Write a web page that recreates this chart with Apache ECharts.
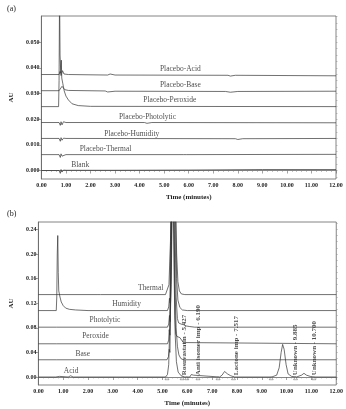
<!DOCTYPE html>
<html>
<head>
<meta charset="utf-8">
<script src="https://cdn.jsdelivr.net/npm/echarts@6/dist/echarts.min.js"></script>
<style>
html,body{margin:0;padding:0;background:#fff}
#chart{width:346px;height:409px}
</style>
</head>
<body>
<div id="chart"></div>
<script>
// (a) placebo chromatograms, points are [time (min), AU]
const placeboAcid = [[0,0.0374],[0.72,0.0374],[0.76,0.0386],[0.8,0.037],[0.86,0.0389],[0.92,0.0376],[1.1,0.0374],[2.7,0.0372],[2.8,0.0376],[3,0.0372],[7.6,0.0371],[7.7,0.0368],[7.9,0.0371],[12,0.0369]]
const placeboBase = [[0,0.0311],[0.72,0.0311],[0.76,0.0304],[0.8,0.031],[0.84,0.0328],[0.88,0.0322],[0.95,0.0315],[1.1,0.0312],[2.6,0.031],[2.7,0.0306],[3,0.0309],[7.5,0.0308],[7.7,0.0305],[8,0.0308],[12,0.0309]]
const placeboPeroxide = [[0,0.0249],[0.7,0.0249],[0.72,0.035],[0.74,0.07],[0.76,0.045],[0.79,0.038],[0.81,0.043],[0.83,0.036],[0.87,0.034],[0.93,0.031],[1.0,0.029],[1.1,0.0275],[1.25,0.026],[1.5,0.0253],[2,0.025],[12,0.0249]]
const placeboPhotolytic = [[0,0.0187],[0.72,0.0187],[0.77,0.0176],[0.8,0.019],[0.84,0.0178],[0.9,0.019],[1.0,0.0187],[4.2,0.0187],[4.3,0.0184],[4.5,0.0187],[12,0.0186]]
const placeboHumidity = [[0,0.0125],[0.72,0.0125],[0.77,0.0114],[0.8,0.0128],[0.84,0.0118],[0.9,0.0126],[1.0,0.0125],[7.9,0.0124],[8.0,0.0121],[8.2,0.0124],[12,0.0125]]
const placeboThermal = [[0,0.0062],[0.72,0.0062],[0.77,0.0051],[0.8,0.0065],[0.84,0.0056],[0.9,0.0063],[1.0,0.0062],[5.8,0.0062],[5.85,0.0066],[5.9,0.0062],[12,0.0063]]
const blank = [[0,0.0],[0.72,0.0],[0.77,-0.0011],[0.8,0.0004],[0.84,-0.0006],[0.9,0.0002],[1.0,0.0001],[3,0.0001],[6,0.0002],[9,0.0004],[12,0.0004]]

// (b) stressed samples
const acid = [[0,0],[0.7,0],[0.74,0.003],[0.78,-0.001],[0.85,0.001],[1.2,0],[1.3,0.002],[1.4,0],[5.12,0],[5.2,0.004],[5.25,0.02],[5.29,0.08],[5.32,0.2],[5.35,0.32],[5.39,0.36],[5.43,0.3],[5.47,0.16],[5.51,0.07],[5.56,0.025],[5.63,0.008],[5.75,0.002],[5.9,0],[6.1,0],[6.16,0.004],[6.2,0.006],[6.25,0.003],[6.32,0],[7.3,0],[7.4,0.003],[7.5,0.009],[7.56,0.007],[7.62,0.005],[7.75,0.002],[7.9,0],[9.4,0],[9.6,0.003],[9.7,0.015],[9.78,0.04],[9.84,0.053],[9.9,0.045],[9.98,0.02],[10.06,0.005],[10.2,0.001],[10.4,0],[10.6,0.003],[10.7,0.006],[10.8,0.003],[10.95,0.001],[11.1,0],[12,0]]
const base = [[0,0.028],[0.74,0.028],[0.78,0.03],[0.82,0.028],[2.9,0.028],[2.95,0.0295],[3,0.028],[5.18,0.028],[5.24,0.033],[5.27,0.045],[5.3,0.04],[5.33,0.15],[5.37,0.3],[5.41,0.36],[5.46,0.28],[5.5,0.15],[5.55,0.08],[5.6,0.05],[5.66,0.036],[5.74,0.03],[5.84,0.028],[12,0.028]]
const peroxide = [[0,0.054],[0.74,0.054],[0.78,0.052],[0.82,0.054],[5.2,0.054],[5.25,0.06],[5.27,0.077],[5.3,0.068],[5.34,0.16],[5.38,0.32],[5.43,0.36],[5.47,0.22],[5.5,0.1],[5.53,0.07],[5.58,0.066],[5.7,0.064],[5.78,0.062],[5.84,0.056],[5.9,0.054],[12,0.054]]
const photolytic = [[0,0.081],[0.74,0.081],[0.78,0.083],[0.82,0.081],[5.2,0.081],[5.25,0.086],[5.28,0.1],[5.31,0.09],[5.35,0.15],[5.4,0.3],[5.45,0.36],[5.5,0.26],[5.55,0.13],[5.6,0.095],[5.65,0.088],[5.75,0.086],[5.85,0.085],[5.95,0.083],[6.1,0.082],[6.3,0.081],[12,0.081]]
const humidity = [[0,0.108],[0.72,0.108],[0.74,0.13],[0.76,0.2],[0.78,0.23],[0.8,0.17],[0.82,0.14],[0.84,0.142],[0.87,0.13],[0.92,0.122],[1.0,0.116],[1.1,0.112],[1.25,0.11],[1.5,0.109],[2,0.108],[5.2,0.108],[5.25,0.114],[5.28,0.128],[5.31,0.12],[5.35,0.2],[5.4,0.33],[5.46,0.37],[5.52,0.28],[5.57,0.16],[5.62,0.125],[5.7,0.113],[5.8,0.109],[6,0.108],[12,0.108]]
const thermal = [[0,0.134],[2.4,0.134],[2.45,0.135],[2.5,0.134],[5.12,0.134],[5.2,0.137],[5.26,0.15],[5.32,0.22],[5.38,0.33],[5.45,0.37],[5.52,0.3],[5.57,0.2],[5.62,0.155],[5.68,0.14],[5.76,0.135],[5.9,0.134],[12,0.134]]

// peak start / end marks on the acid trace
const integrationMarks = [5.18, 5.79, 5.98, 6.43, 7.24, 7.86, 9.38, 10.36, 11.1]

const tracesA = [placeboAcid, placeboBase, placeboPeroxide, placeboPhotolytic, placeboHumidity, placeboThermal, blank]
const namesA = ['Placebo-Acid', 'Placebo-Base', 'Placebo-Peroxide', 'Placebo-Photolytic', 'Placebo-Humidity', 'Placebo-Thermal', 'Blank']
const labelAtA = [[5.66,0.0395],[5.66,0.0332],[5.23,0.0273],[4.32,0.0207],[3.68,0.0141],[2.61,0.0082],[1.58,0.0021]]

const tracesB = [thermal, humidity, photolytic, peroxide, base, acid]
const namesB = ['Thermal', 'Humidity', 'Photolytic', 'Peroxide', 'Base', 'Acid']
const labelAtB = [[4.52,0.145],[3.55,0.119],[2.68,0.093],[2.3,0.066],[1.79,0.037],[1.32,0.010]]

const peakNames = ['Rosuvastatin - 5.427', 'Anti isomer imp - 6.190', 'Lactone imp - 7.517', 'Unknown - 9.885', 'Unknown - 10.700']
const peakLabelAt = [5.88, 6.43, 7.95, 10.36, 11.12]

const yTicksA = [0, 0.01, 0.02, 0.03, 0.04, 0.05]
const yTicksB = [0, 0.04, 0.08, 0.12, 0.16, 0.20, 0.24]

const serif = 'Liberation Serif'
const ink = '#333'

function minorTicks(ticks, step, min, max) {
  let out = []
  for (let v = ticks[0] - 10 * step; v <= max; v += step) {
    if (v >= min) out.push(+v.toFixed(5))
  }
  return out
}

function xAxisFor(gi) {
  return {
    gridIndex: gi, type: 'value', min: 0, max: 12, interval: 1,
    name: 'Time (minutes)', nameLocation: 'middle', nameGap: 15,
    nameTextStyle: { fontFamily: serif, fontWeight: 'bold', fontSize: 7, color: '#222' },
    axisLine: { lineStyle: { color: '#666', width: 0.8 } },
    axisTick: { length: 3, lineStyle: { color: '#666', width: 0.6 } },
    minorTick: { show: true, splitNumber: 5, length: 1.5, lineStyle: { color: '#888', width: 0.5 } },
    axisLabel: { fontFamily: serif, fontWeight: 'bold', fontSize: 6, color: '#222', margin: 3,
      formatter: v => v.toFixed(2) },
    splitLine: { show: false }
  }
}

function yAxisFor(gi, min, max, ticks, digits) {
  return {
    gridIndex: gi, type: 'value', min: min, max: max,
    name: 'AU', nameLocation: 'middle', nameGap: 20, nameRotate: 90,
    nameTextStyle: { fontFamily: serif, fontWeight: 'bold', fontSize: 7, color: '#222' },
    axisLine: { show: true, lineStyle: { color: '#666', width: 0.8 } },
    axisTick: { show: true, length: 3, customValues: ticks, lineStyle: { color: '#666', width: 0.6 } },
    axisLabel: { customValues: ticks, fontFamily: serif, fontWeight: 'bold', fontSize: 6, color: '#222', margin: 2,
      formatter: v => v.toFixed(digits) },
    splitLine: { show: false }
  }
}

function minorAxisFor(gi, min, max, ticks, step) {
  return {
    gridIndex: gi, type: 'value', min: min, max: max,
    axisLine: { show: false },
    axisTick: { show: true, length: 1.5, customValues: minorTicks(ticks, step, min, max), lineStyle: { color: '#888', width: 0.5 } },
    axisLabel: { show: false },
    splitLine: { show: false }
  }
}

let series = []
tracesA.forEach((d, i) => {
  series.push({ name: namesA[i], type: 'line', xAxisIndex: 0, yAxisIndex: 0, data: d,
    showSymbol: false, silent: true, lineStyle: { color: ink, width: 0.7 } })
})
tracesB.forEach((d, i) => {
  series.push({ name: namesB[i], type: 'line', xAxisIndex: 1, yAxisIndex: 2, data: d,
    showSymbol: false, silent: true, lineStyle: { color: ink, width: 0.7 } })
})

const traceLabel = { show: true, position: 'inside', formatter: p => p.name,
  fontFamily: serif, fontSize: 7.5, color: '#222' }

series.push({ type: 'scatter', xAxisIndex: 0, yAxisIndex: 0, symbolSize: 0, silent: true,
  data: namesA.map((n, i) => ({ name: n, value: labelAtA[i] })), label: traceLabel })
series.push({ type: 'scatter', xAxisIndex: 1, yAxisIndex: 2, symbolSize: 0, silent: true,
  data: namesB.map((n, i) => ({ name: n, value: labelAtB[i] })), label: traceLabel })
series.push({ type: 'scatter', xAxisIndex: 1, yAxisIndex: 2, symbolSize: 0, silent: true,
  data: peakNames.map((n, i) => ({ name: n, value: [peakLabelAt[i], 0.003] })),
  label: { show: true, position: 'inside', formatter: p => p.name, rotate: 90, align: 'left', verticalAlign: 'middle',
    fontFamily: serif, fontWeight: 'bold', fontSize: 7, color: '#222' } })
series.push({ type: 'scatter', xAxisIndex: 1, yAxisIndex: 2, symbol: 'triangle', symbolSize: [4, 3], silent: true,
  data: integrationMarks.map(t => [t, -0.002]),
  itemStyle: { color: '#fff', borderColor: '#555', borderWidth: 0.6 } })

const chart = echarts.init(document.getElementById('chart'), null, { renderer: 'canvas' })
chart.setOption({
  animation: false,
  backgroundColor: '#fff',
  title: [
    { text: '(a)', left: 2, top: 0, textStyle: { fontFamily: serif, fontWeight: 'normal', fontSize: 8, color: '#222' } },
    { text: '(b)', left: 2, top: 205, textStyle: { fontFamily: serif, fontWeight: 'normal', fontSize: 8, color: '#222' } }
  ],
  grid: [
    { left: 32, right: 10, top: 16, bottom: 230, show: true, borderColor: '#666', borderWidth: 0.8 },
    { left: 31, right: 6, top: 222, bottom: 24, show: true, borderColor: '#666', borderWidth: 0.8 }
  ],
  xAxis: [xAxisFor(0), xAxisFor(1)],
  yAxis: [
    yAxisFor(0, -0.0033, 0.0602, yTicksA, 3),
    minorAxisFor(0, -0.0033, 0.0602, yTicksA, 0.0025),
    yAxisFor(1, -0.013, 0.252, yTicksB, 2),
    minorAxisFor(1, -0.013, 0.252, yTicksB, 0.01)
  ],
  series: series
})
</script>
</body>
</html>
